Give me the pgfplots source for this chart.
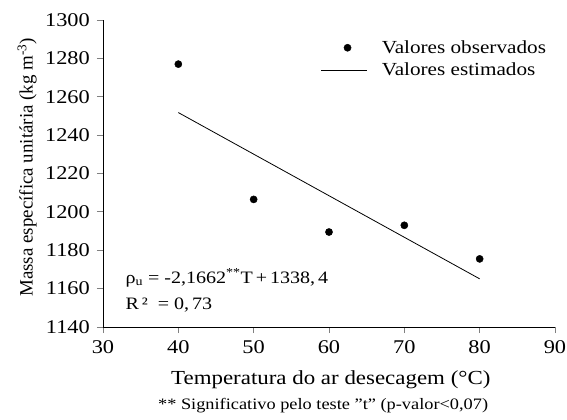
\documentclass[border=0pt]{standalone}
\usepackage{fontspec}
\setmainfont{Liberation Serif}[FakeStretch=1.15]
\newfontfamily\plainserif{Liberation Serif}
\usepackage{pgfplots}
\pgfplotsset{compat=1.18}
\pgfplotsset{
  dotlegend/.style={legend image code/.code={\draw[##1] plot coordinates {(0.92cm,0cm)};}},
  linelegend/.style={legend image code/.code={\draw[##1] (0cm,0cm) -- (1.62cm,0cm);}},
}
\begin{document}
\begin{tikzpicture}
\begin{axis}[
  scale only axis, width=452bp, height=307bp,
  xmin=30, xmax=90, ymin=1140, ymax=1300,
  axis x line*=bottom, axis y line*=left,
  axis line style={line width=0.9bp},
  tick align=outside, major tick length=6bp,
  tick style={line width=0.9bp},
  xtick={30,40,...,90}, ytick={1140,1160,...,1300},
  xticklabel={\pgfmathprintnumber[assume math mode=true]{\tick}},
  yticklabel={\pgfmathprintnumber[assume math mode=true,1000 sep={}]{\tick}},
  tick label style={font=\fontsize{19.5}{19.5}\selectfont, inner xsep=0pt},
  xticklabel style={yshift=-4bp},
  yticklabel style={xshift=-7bp},
  xlabel={Temperatura do ar desecagem (°C)},
  ylabel={Massa específica unitária (kg m\textsuperscript{-3})},
  xlabel style={font=\fontsize{20}{20}\selectfont, at={(axis description cs:0.504,-0.173)}, anchor=center},
  ylabel style={font=\plainserif\fontsize{19}{19}\selectfont, at={(axis description cs:-0.168,0.52)}, anchor=center},
  legend style={draw=none, fill=none, at={(axis description cs:0.482,0.94)}, anchor=north west, font=\fontsize{18.5}{18.5}\selectfont, row sep=4bp, inner sep=0pt,
    nodes={inner xsep=2bp}, /tikz/every odd column/.append style={column sep=12bp}},
  legend cell align=left,
  clip=false,
]
\addplot[only marks, mark=*, mark size=3.6bp, black, dotlegend] coordinates {
(40,1277) (50,1206.5) (60,1189.5) (70,1193) (80,1175.5)};
\addlegendentry{Valores observados}
\addplot[black, line width=0.8bp, no marks, linelegend] coordinates {(40,1251.75) (80,1165.1)};
\addlegendentry{Valores estimados}
\node[anchor=west, font=\fontsize{17.5}{17.5}\selectfont] at (axis description cs:0.042,0.16) {ρ\textsubscript{u} =\ -2,1662\textsuperscript{**}T\,+\,1338,\,4};
\node[anchor=west, font=\fontsize{17.5}{17.5}\selectfont] at (axis description cs:0.042,0.07) {R\,² \ =\ 0,\,73};
\node[font=\fontsize{16}{16}\selectfont] at (axis description cs:0.487,-0.257) {** Significativo pelo teste \symbol{34}t\symbol{34} (p-valor<0,07)};
\end{axis}
\path (current axis.south west) ++(-103bp,-93bp) rectangle ++(567bp,420bp);
\end{tikzpicture}
\end{document}
